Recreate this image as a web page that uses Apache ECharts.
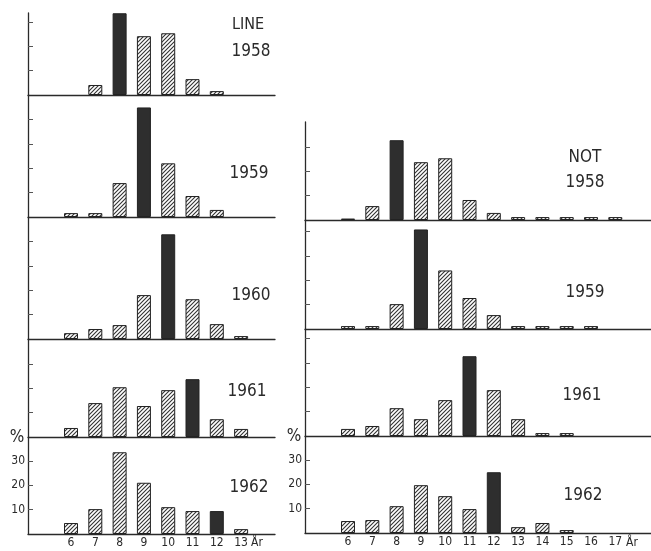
<!DOCTYPE html>
<html>
<head>
<meta charset="utf-8">
<script src="https://cdn.jsdelivr.net/npm/echarts@6/dist/echarts.min.js"></script>
<style>
  html, body { margin: 0; background: #fff; }
  #main { width: 651px; height: 551px; }
</style>
</head>
<body>
<div id="main"></div>
<script>
// åldrar (år) på x-axeln
var ageLine = [6, 7, 8, 9, 10, 11, 12, 13];
var ageNot = [6, 7, 8, 9, 10, 11, 12, 13, 14, 15, 16, 17];

// procent per ålder, LINE
var line1958 = [0, 4.1, 33.5, 24.1, 25.3, 6.5, 1.6, 0];
var line1959 = [1.6, 1.6, 13.9, 44.9, 22, 8.6, 2.9, 0];
var line1960 = [2.4, 4.1, 5.7, 18, 42.9, 16.3, 6.1, 1.2];
var line1961 = [3.7, 13.9, 20.4, 12.7, 19.2, 23.7, 7.3, 3.3];
var line1962 = [4.5, 10.2, 33.5, 21, 11, 9.4, 9.4, 2];

// procent per ålder, NOT
var not1958 = [0.6, 5.7, 32.7, 23.7, 25.3, 8.2, 2.9, 1.2, 1.2, 1.2, 1.2, 1.2];
var not1959 = [1.2, 1.2, 10.2, 40.8, 24, 12.7, 5.7, 1.2, 1.2, 1.2, 1.2, 0];
var not1961 = [2.9, 4.1, 11.4, 6.9, 14.7, 32.7, 18.8, 6.9, 1.2, 1.2, 0, 0];
var not1962 = [4.9, 5.3, 11, 19.6, 15.1, 9.8, 24.9, 2.4, 4.1, 1.2, 0, 0];

// svart stapel = årskullen
var darkLine = [8, 9, 10, 11, 12];
var darkNot = [8, 9, 11, 12];

var yTicks = [10, 20, 30, 40];
var yLabels = [10, 20, 30];

var ink = '#2a2a2a';
var font = '"Liberation Sans Narrow", "DejaVu Sans Condensed", "Liberation Sans", sans-serif';

// snedstreckat mönster
function makeHatch() {
    var c = document.createElement('canvas');
    c.width = 4; c.height = 4;
    var g = c.getContext('2d');
    g.fillStyle = '#fff';
    g.fillRect(0, 0, 4, 4);
    g.strokeStyle = '#333';
    g.lineWidth = 1.1;
    g.beginPath();
    g.moveTo(-1, 5); g.lineTo(5, -1);
    g.moveTo(-1, 1); g.lineTo(1, -1);
    g.moveTo(3, 5); g.lineTo(5, 3);
    g.stroke();
    return c;
}
var hatch = { image: makeHatch(), repeat: 'repeat' };

var pxPer10 = 24.4;
var xMin = 4.23;
var pxPerAge = 24.3;

var panels = [
    { left: 28, width: 247, top: 13, bottom: 95, ages: ageLine, data: line1958, dark: darkLine[0], year: '1958', tx: 251, ty: 52 },
    { left: 28, width: 247, top: 95, bottom: 217, ages: ageLine, data: line1959, dark: darkLine[1], year: '1959', tx: 249, ty: 174 },
    { left: 28, width: 247, top: 217, bottom: 339, ages: ageLine, data: line1960, dark: darkLine[2], year: '1960', tx: 251, ty: 296 },
    { left: 28, width: 247, top: 339, bottom: 437, ages: ageLine, data: line1961, dark: darkLine[3], year: '1961', tx: 247, ty: 392 },
    { left: 28, width: 247, top: 437, bottom: 534, ages: ageLine, data: line1962, dark: darkLine[4], year: '1962', tx: 249, ty: 488, last: true },
    { left: 305, width: 346, top: 122, bottom: 220, ages: ageNot, data: not1958, dark: darkNot[0], year: '1958', tx: 585, ty: 183 },
    { left: 305, width: 346, top: 220, bottom: 329, ages: ageNot, data: not1959, dark: darkNot[1], year: '1959', tx: 585, ty: 293 },
    { left: 305, width: 346, top: 329, bottom: 436, ages: ageNot, data: not1961, dark: darkNot[2], year: '1961', tx: 582, ty: 396 },
    { left: 305, width: 346, top: 436, bottom: 533, ages: ageNot, data: not1962, dark: darkNot[3], year: '1962', tx: 583, ty: 496, last: true }
];

var grid = [], xAxis = [], yAxis = [], series = [];
var graphic = [];

panels.forEach(function (p, i) {
    var h = p.bottom - p.top;
    var yMax = h / pxPer10 * 10;
    grid.push({ left: p.left, top: p.top, width: p.width, height: h });
    xAxis.push({
        type: 'value', gridIndex: i,
        min: xMin, max: xMin + p.width / pxPerAge,
        axisLine: { lineStyle: { color: ink, width: 1.3 } },
        axisTick: { show: false },
        splitLine: { show: false },
        axisLabel: {
            show: !!p.last, customValues: p.ages, margin: 3,
            color: ink, fontSize: 12, fontFamily: font
        }
    });
    yAxis.push({
        type: 'value', gridIndex: i, min: 0, max: yMax,
        axisLine: { show: true, lineStyle: { color: ink, width: 1.3 } },
        axisTick: {
            show: true, inside: true, length: 5,
            customValues: yTicks.filter(function (v) { return v < yMax - 2; }),
            lineStyle: { color: '#555' }
        },
        splitLine: { show: false },
        axisLabel: {
            show: !!p.last, customValues: yLabels, margin: 3,
            color: ink, fontSize: 12, fontFamily: font
        }
    });
    var items = [];
    p.data.forEach(function (v, k) {
        if (!v) return;
        var age = p.ages[k];
        items.push({
            value: [age, v],
            itemStyle: { color: age === p.dark ? '#2e2e2e' : hatch }
        });
    });
    series.push({
        type: 'bar', xAxisIndex: i, yAxisIndex: i,
        barWidth: 14, data: items,
        itemStyle: { borderColor: '#222', borderWidth: 1 },
        silent: true
    });
    graphic.push({
        type: 'text', x: p.tx, y: p.ty,
        style: { text: p.year, font: '17px ' + font, fill: ink, align: 'center', verticalAlign: 'middle' }
    });
});

graphic.push(
    { type: 'text', x: 248, y: 25, style: { text: 'LINE', font: '16px ' + font, fill: ink, align: 'center', verticalAlign: 'middle' } },
    { type: 'text', x: 585, y: 158, style: { text: 'NOT', font: '17px ' + font, fill: ink, align: 'center', verticalAlign: 'middle' } },
    { type: 'text', x: 17, y: 438, style: { text: '%', font: '17px ' + font, fill: ink, align: 'center', verticalAlign: 'middle' } },
    { type: 'text', x: 294, y: 437, style: { text: '%', font: '17px ' + font, fill: ink, align: 'center', verticalAlign: 'middle' } },
    { type: 'text', x: 251, y: 543, style: { text: 'År', font: '12px ' + font, fill: ink, align: 'left', verticalAlign: 'middle' } },
    { type: 'text', x: 626, y: 543, style: { text: 'År', font: '12px ' + font, fill: ink, align: 'left', verticalAlign: 'middle' } }
);

var chart = echarts.init(document.getElementById('main'));
chart.setOption({
    backgroundColor: '#fff',
    animation: false,
    grid: grid,
    xAxis: xAxis,
    yAxis: yAxis,
    series: series,
    graphic: graphic
});
</script>
</body>
</html>
